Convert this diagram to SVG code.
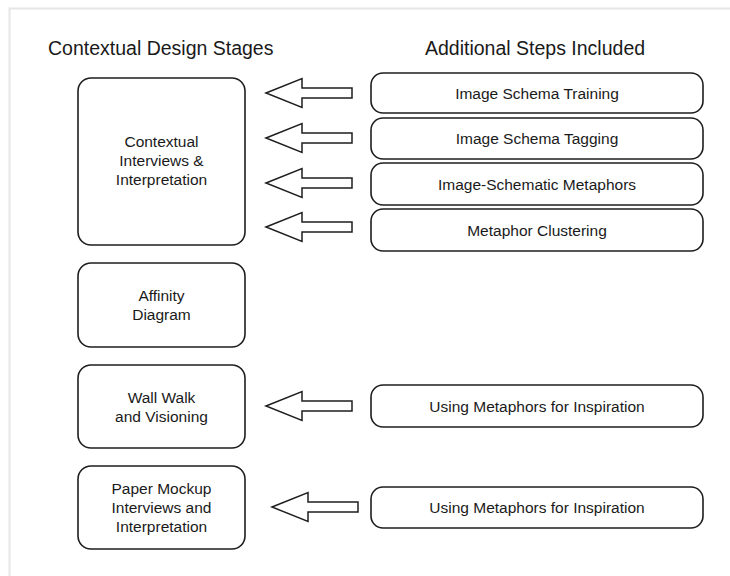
<svg xmlns="http://www.w3.org/2000/svg" xmlns:xlink="http://www.w3.org/1999/xlink" width="730" height="576" viewBox="0 0 730 576">
<style>
.box{fill:#fff;stroke:#1e1e1e;stroke-width:1.6}
.t{font-family:"Liberation Sans",Arial,sans-serif;font-size:15.5px;fill:#1a1a1a;text-anchor:middle}
.h{font-family:"Liberation Sans",Arial,sans-serif;font-size:19.5px;fill:#1a1a1a}
.arr{fill:#fff;stroke:#1e1e1e;stroke-width:1.5;stroke-linejoin:miter}
</style>
<defs>
<path id="arrow" class="arr" d="M0,0 L36,-14.5 L36,-5 L86,-5 L86,5 L36,5 L36,14.5 Z"/>
</defs>
<rect width="730" height="576" fill="#fff"/>
<path d="M9.5,576 L9.5,8.5 L730,8.5" fill="none" stroke="#e6e6e6" stroke-width="2"/>
<text class="h" x="48" y="55">Contextual Design Stages</text>
<text class="h" x="425" y="55">Additional Steps Included</text>

<g id="contextual-interviews">
<rect class="box" x="78" y="78" width="167" height="167" rx="13"/>
<text class="t" x="161.5" y="147">Contextual</text>
<text class="t" x="161.5" y="166">Interviews &amp;</text>
<text class="t" x="161.5" y="185">Interpretation</text>
</g>
<g id="affinity-diagram">
<rect class="box" x="78" y="263" width="167" height="84" rx="13"/>
<text class="t" x="161.5" y="301">Affinity</text>
<text class="t" x="161.5" y="320">Diagram</text>
</g>
<g id="wall-walk">
<rect class="box" x="78" y="365" width="167" height="83" rx="13"/>
<text class="t" x="161.5" y="403">Wall Walk</text>
<text class="t" x="161.5" y="422">and Visioning</text>
</g>
<g id="paper-mockup">
<rect class="box" x="78" y="466" width="167" height="83" rx="13"/>
<text class="t" x="161.5" y="494">Paper Mockup</text>
<text class="t" x="161.5" y="513">Interviews and</text>
<text class="t" x="161.5" y="532">Interpretation</text>
</g>

<g id="image-schema-training">
<rect class="box" x="371" y="73" width="332" height="40" rx="12"/>
<text class="t" x="537" y="98.5">Image Schema Training</text>
</g>
<g id="image-schema-tagging">
<rect class="box" x="371" y="118" width="332" height="41" rx="12"/>
<text class="t" x="537" y="144">Image Schema Tagging</text>
</g>
<g id="image-schematic-metaphors">
<rect class="box" x="371" y="163" width="332" height="42" rx="12"/>
<text class="t" x="537" y="189.5">Image-Schematic Metaphors</text>
</g>
<g id="metaphor-clustering">
<rect class="box" x="371" y="209" width="332" height="42" rx="12"/>
<text class="t" x="537" y="235.5">Metaphor Clustering</text>
</g>
<g id="metaphors-inspiration-1">
<rect class="box" x="371" y="385" width="332" height="42" rx="12"/>
<text class="t" x="537" y="411.5">Using Metaphors for Inspiration</text>
</g>
<g id="metaphors-inspiration-2">
<rect class="box" x="371" y="487" width="332" height="41" rx="12"/>
<text class="t" x="537" y="513">Using Metaphors for Inspiration</text>
</g>

<g id="connectors">
<use xlink:href="#arrow" href="#arrow" x="266" y="93"/>
<use xlink:href="#arrow" href="#arrow" x="266" y="138"/>
<use xlink:href="#arrow" href="#arrow" x="266" y="183"/>
<use xlink:href="#arrow" href="#arrow" x="266" y="227"/>
<use xlink:href="#arrow" href="#arrow" x="266" y="406"/>
<use xlink:href="#arrow" href="#arrow" x="272" y="507"/>
</g>
</svg>
